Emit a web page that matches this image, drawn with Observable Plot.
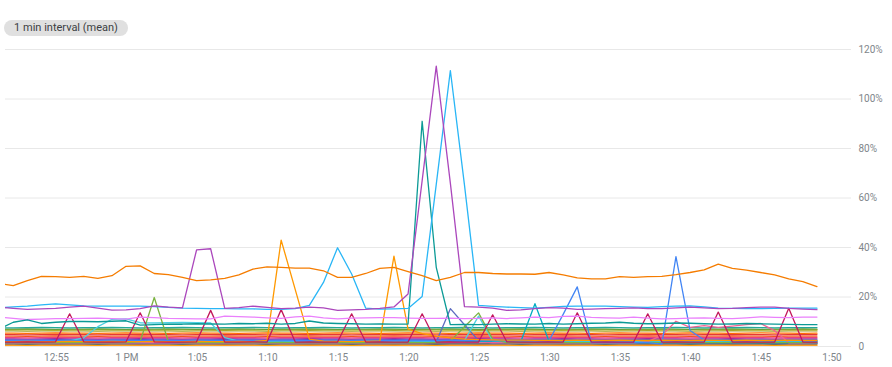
<!DOCTYPE html>
<html><head><meta charset="utf-8">
<script src="https://cdn.jsdelivr.net/npm/d3@7"></script>
<script src="https://cdn.jsdelivr.net/npm/@observablehq/plot@0.6"></script>
<style>
body{margin:0;background:#fff;font-family:Roboto,sans-serif;}
#head{height:40px;position:relative;}
#pill{position:absolute;left:4px;top:20px;width:124px;height:16px;line-height:16px;border-radius:8px;background:#e0e0e0;color:#3c4043;font-size:11px;text-align:center;}
</style></head><body>
<div id="head"><span id="pill">1 min interval (mean)</span></div>
<div id="chart"></div>
<script>
// x tick labels and y tick labels
const xTickLabels = ["12:55","1 PM","1:05","1:10","1:15","1:20","1:25","1:30","1:35","1:40","1:45","1:50"];
const xTickTimes = ["12:55","13:00","13:05","13:10","13:15","13:20","13:25","13:30","13:35","13:40","13:45","13:50"];
const yTickValues = [0,20,40,60,80,100,120];
const yTickLabels = ["0","20%","40%","60%","80%","100%","120%"];

// series values (percent), one per minute starting 12:50:56
const orangeTop = [25.5,24.6,26.6,28.3,28.2,27.9,28.3,27.5,28.6,32.4,
32.6,29.5,29.0,27.9,26.6,26.9,27.5,28.9,31.3,32.2,
32.0,31.7,31.7,30.6,27.9,27.9,29.5,31.6,32.0,30.3,
28.6,26.6,27.9,29.9,29.9,29.5,29.3,29.3,29.2,29.9,
28.9,27.7,27.3,27.3,28.2,27.9,28.2,28.3,29.0,29.9,
31.0,33.3,31.6,30.9,29.9,28.9,27.3,26.2,24.2];
const purple = [15.9,15.4,15.0,15.2,15.4,15.9,16.3,15.5,14.7,14.8,
15.3,16.4,15.9,15.6,39.0,39.5,15.4,15.7,16.3,15.8,
15.3,15.5,15.9,15.6,14.6,14.8,15.0,15.4,16.0,21.2,
67.0,113.3,66.0,16.1,15.9,15.5,14.6,14.8,15.3,15.7,
15.5,15.0,15.1,15.3,15.4,15.6,15.3,15.3,15.6,15.9,
15.6,15.3,15.4,15.7,15.9,15.9,15.4,15.1,14.9];
const sky = [15.6,16.0,16.3,16.8,17.2,16.8,16.4,16.3,16.3,16.3,
16.3,16.1,15.8,15.5,15.4,15.3,15.3,15.2,15.2,15.0,
15.0,15.3,16.6,25.9,39.9,29.3,15.5,15.1,15.2,15.4,
20.2,65.5,111.5,65.3,16.6,16.2,15.9,15.7,15.5,15.8,
16.2,16.3,16.3,16.3,16.1,15.9,15.8,16.1,16.3,16.4,
16.0,15.5,15.4,15.3,15.3,15.4,15.5,15.5,15.5];
const teal = [7.0,9.8,10.8,9.3,9.8,10.1,10.1,10.0,10.2,10.4,
8.6,8.8,9.0,9.0,9.2,9.1,9.0,9.3,9.2,9.4,
9.0,9.3,10.3,9.5,9.3,9.2,9.0,9.1,9.0,9.1,
91.0,32.0,8.8,8.9,8.8,9.0,9.2,9.1,9.0,9.3,
9.0,9.2,9.4,9.5,9.8,9.4,9.2,9.3,9.5,9.4,
9.2,9.0,9.1,9.3,9.2,9.0,8.9,8.8,8.8];
const crimson = [1.8,1.8,1.9,1.8,1.9,13.2,1.9,1.8,1.8,1.9,
13.6,1.9,1.8,1.8,1.9,14.6,1.8,1.8,1.9,1.8,
14.9,1.8,1.9,1.8,1.8,13.2,1.8,1.9,1.8,1.8,
13.2,1.8,1.9,1.8,1.8,12.8,1.9,1.8,1.8,1.9,
1.8,13.6,1.8,1.9,1.8,1.8,13.2,1.8,1.9,1.8,
1.8,13.9,1.8,1.9,1.8,1.8,15.5,1.8,1.8];
const violet = [11.9,11.4,10.9,11.1,11.3,11.3,11.4,11.5,11.3,11.1,
11.9,11.7,11.4,11.3,11.2,11.2,12.3,12.1,11.9,11.6,
11.4,12.0,12.3,11.6,11.2,11.5,11.6,11.7,11.7,11.5,
11.4,11.4,11.5,11.3,11.4,11.6,11.3,11.6,11.9,11.7,
12.2,12.3,11.8,11.6,11.5,11.9,11.5,11.2,11.3,11.5,
11.6,11.4,11.3,11.6,12.0,11.8,11.7,11.9,11.9];
const green = [1.6,1.6,1.7,1.6,1.6,1.7,1.6,1.6,1.7,1.6,
2.0,19.8,2.0,1.6,1.7,1.6,1.6,1.7,1.6,1.6,
1.7,1.6,1.6,1.7,1.6,1.6,1.7,1.6,1.6,1.7,
1.6,1.7,2.2,8.0,13.6,3.0,1.6,1.7,1.6,1.6,
1.7,1.6,1.6,1.7,1.6,1.6,1.7,1.6,1.6,1.7,
1.6,1.6,1.7,1.6,1.6,1.7,1.6,1.6,1.6];
const indigo = [1.4,1.4,1.5,1.4,1.4,1.5,1.4,1.4,1.5,1.4,
1.4,1.5,1.4,1.4,1.5,1.4,1.4,1.5,1.4,1.4,
1.5,1.4,1.4,1.5,1.4,1.4,1.5,1.4,1.4,1.5,
1.5,1.8,15.3,8.8,2.4,1.4,1.5,1.4,1.4,1.5,
1.4,1.4,1.5,1.4,1.4,1.5,1.4,1.4,1.5,1.4,
1.4,1.5,1.4,1.4,1.5,1.4,1.4,1.5,1.4];
const lightCyan = [2.2,2.2,2.3,2.2,2.2,2.3,3.5,8.0,11.0,11.2,
9.6,9.5,9.6,9.7,9.6,9.5,3.6,2.2,2.3,2.2,
2.2,2.3,2.2,2.2,2.3,2.2,2.2,2.3,2.2,2.2,
2.3,2.2,2.3,2.4,12.3,2.4,2.2,2.3,2.2,2.2,
2.3,2.2,2.2,2.3,2.2,2.2,2.3,2.2,2.2,2.3,
2.2,2.2,2.3,2.2,2.2,2.3,2.2,2.2,2.2];
const cyanTeal = [2.0,2.0,2.1,2.0,2.0,2.1,2.0,2.0,2.1,2.0,
2.0,2.1,2.0,2.0,2.1,2.0,2.0,2.1,2.0,2.0,
2.1,2.0,2.0,2.1,2.0,2.0,2.1,2.0,2.0,2.1,
2.0,2.0,2.1,2.0,2.0,2.1,2.0,2.0,17.3,2.0,
2.0,2.1,2.0,2.0,2.1,2.0,2.0,2.1,2.0,2.0,
2.1,2.0,2.0,2.1,2.0,2.0,2.1,2.0,2.0];
const blue = [2.4,2.4,2.5,2.4,2.4,2.5,2.4,2.4,2.5,2.4,
2.4,2.5,2.4,2.4,2.5,2.4,2.4,2.5,2.4,2.4,
2.5,2.4,2.4,2.5,2.4,2.4,2.5,2.4,2.4,2.5,
2.4,2.4,2.5,2.4,2.4,2.5,2.4,2.4,2.4,2.3,
13.0,24.1,1.6,1.6,1.7,1.6,1.6,1.0,36.3,6.5,
2.6,2.5,2.4,2.4,2.5,2.4,2.4,2.5,2.4];
const pink = [1.5,1.5,1.6,1.5,1.5,1.6,1.5,1.5,1.6,1.5,
1.5,1.6,1.5,1.5,1.6,1.5,1.5,1.6,1.5,1.5,
1.6,1.5,1.5,1.6,1.5,1.5,1.6,1.5,1.5,1.6,
1.5,1.5,1.6,1.5,1.5,1.6,1.5,1.5,1.6,1.5,
1.5,1.6,1.5,1.5,1.6,1.5,2.0,4.5,10.2,7.7,
8.4,7.7,8.2,8.8,9.3,6.4,1.5,1.5,1.6];
const orangeBright = [2.0,2.0,2.1,2.0,2.0,2.1,2.0,2.0,2.1,2.0,
2.0,2.1,2.0,2.0,2.1,2.0,2.0,2.1,2.0,2.5,
43.0,23.0,3.0,2.2,2.1,2.0,2.1,2.3,36.5,7.0,
5.2,4.2,3.5,3.0,2.8,2.7,2.6,2.6,2.5,2.5,
2.5,2.6,2.5,2.5,2.6,2.5,2.5,2.6,2.5,2.5,
2.6,2.5,2.5,2.6,2.5,2.5,2.6,2.5,2.5];
const tealGreen = [7.6,7.5,7.6,7.7,7.6,7.5,7.6,7.6,7.7,7.6,
7.5,7.6,7.6,7.7,7.6,7.5,7.6,7.6,7.7,7.6,
7.5,7.6,7.6,7.7,7.6,7.5,7.6,7.6,7.7,7.6,
7.5,7.6,7.6,7.7,7.6,7.5,7.6,7.6,7.7,7.6,
7.5,7.6,7.6,7.7,7.6,7.5,7.6,7.6,7.7,7.6,
7.5,7.6,7.6,7.7,7.6,7.5,7.6,7.6,7.6];
const lime = [6.8,6.8,6.9,6.8,6.7,6.8,6.8,6.9,6.8,6.8,
6.8,6.7,6.8,6.8,6.9,6.8,6.8,6.8,6.7,6.8,
6.8,6.9,6.8,6.8,6.8,6.7,6.8,6.8,6.8,6.9,
6.8,6.8,6.7,6.8,6.8,6.8,6.9,6.8,6.8,6.8,
6.7,6.8,6.8,6.9,6.8,6.8,6.8,6.7,6.8,6.8,
6.9,6.8,6.8,6.8,6.7,6.8,6.8,6.9,6.8];
const olive = [6.3,6.3,6.2,6.3,6.4,6.3,6.3,6.2,6.3,6.3,
6.4,6.3,6.3,6.2,6.3,6.3,6.4,6.3,6.3,6.2,
6.3,6.3,6.4,6.3,6.3,6.2,6.3,6.3,6.4,6.3,
6.3,6.2,6.3,6.3,6.4,6.3,6.3,6.2,6.3,6.3,
6.4,6.3,6.3,6.2,6.3,6.3,6.4,6.3,6.3,6.2,
6.3,6.3,6.4,6.3,6.3,6.2,6.3,6.3,6.3];
const leaf = [7.0,7.0,7.1,7.0,6.9,7.0,7.0,7.1,7.0,6.9,
7.0,7.0,7.1,7.0,6.9,7.0,7.0,7.1,7.0,6.9,
7.0,7.0,7.1,7.0,6.9,7.0,7.0,7.1,7.0,6.9,
7.0,7.0,7.1,7.0,6.9,7.0,7.0,7.1,7.0,6.9,
7.0,7.0,7.1,7.0,6.9,7.0,7.0,7.1,7.0,6.9,
7.0,7.0,7.1,7.0,6.9,7.0,7.0,7.1,7.0];
const deepOrange = [5.4,5.4,5.3,5.4,5.5,5.4,5.4,5.3,5.4,5.5,
5.4,5.4,5.3,5.4,5.5,5.4,5.4,5.3,5.4,5.5,
5.4,5.4,5.3,5.4,5.5,5.4,5.4,5.3,5.4,5.5,
5.4,5.4,5.3,5.4,5.5,5.4,5.4,5.3,5.4,5.5,
5.4,5.4,5.3,5.4,5.5,5.4,5.4,5.3,5.4,5.5,
5.4,5.4,5.3,5.4,5.5,5.4,5.4,5.3,5.4];
const red = [4.8,4.8,4.7,4.8,4.9,4.8,4.8,4.7,4.8,4.8,
4.9,4.8,4.8,4.7,4.8,4.8,4.9,4.8,4.8,4.7,
4.8,4.8,4.9,4.8,4.8,4.7,4.8,4.8,4.9,4.8,
4.8,4.7,4.8,4.8,4.9,4.8,4.8,4.7,4.8,4.8,
4.9,4.8,4.8,4.7,4.8,4.8,4.9,4.8,4.8,4.7,
4.8,4.8,4.9,4.8,4.8,4.7,4.8,4.8,4.8];
const vermilion = [4.2,4.2,4.1,4.2,4.3,4.2,4.2,4.1,4.2,4.2,
4.3,4.2,4.2,4.1,4.2,4.2,4.3,4.2,4.2,4.1,
4.2,4.2,4.3,4.2,4.2,4.1,4.2,4.2,4.3,4.2,
4.2,4.1,4.2,4.2,4.3,4.2,4.2,4.1,4.2,4.2,
4.3,4.2,4.2,4.1,4.2,4.2,4.3,4.2,4.2,4.1,
4.2,4.2,4.3,4.2,4.2,4.1,4.2,4.2,4.2];
const rose = [3.6,3.6,3.5,3.6,3.7,3.6,3.6,3.5,3.6,3.6,
3.7,3.6,3.6,3.5,3.6,3.6,3.7,3.6,3.6,3.5,
3.6,3.6,3.7,3.6,3.6,3.5,3.6,3.6,3.7,3.6,
3.6,3.5,3.6,3.6,3.7,3.6,3.6,3.5,3.6,3.6,
3.7,3.6,3.6,3.5,3.6,3.6,3.7,3.6,3.6,3.5,
3.6,3.6,3.7,3.6,3.6,3.5,3.6,3.6,3.6];
const grape = [3.1,3.1,3.0,3.1,3.2,3.1,3.1,3.0,3.1,3.1,
3.2,3.1,3.1,3.0,3.1,3.1,3.2,3.1,3.1,3.0,
3.1,3.1,3.2,3.1,3.1,3.0,3.1,3.1,3.2,3.1,
3.1,3.0,3.1,3.1,3.2,3.1,3.1,3.0,3.1,3.1,
3.2,3.1,3.1,3.0,3.1,3.1,3.2,3.1,3.1,3.0,
3.1,3.1,3.2,3.1,3.1,3.0,3.1,3.1,3.1];
const azure = [2.7,2.7,2.6,2.7,2.8,2.7,2.7,2.6,2.7,2.7,
2.8,2.7,2.7,2.6,2.7,2.7,2.8,2.7,2.7,2.6,
2.7,2.7,2.8,2.7,2.7,2.6,2.7,2.7,2.8,2.7,
2.7,2.6,2.7,2.7,2.8,2.7,2.7,2.6,2.7,2.7,
2.8,2.7,2.7,2.6,2.7,2.7,2.8,2.7,2.7,2.6,
2.7,2.7,2.8,2.7,2.7,2.6,2.7,2.7,2.7];
const navy = [2.2,2.2,2.1,2.2,2.3,2.2,2.2,2.1,2.2,2.2,
2.3,2.2,2.2,2.1,2.2,2.2,2.3,2.2,2.2,2.1,
2.2,2.2,2.3,2.2,2.2,2.1,2.2,2.2,2.3,2.2,
2.2,2.1,2.2,2.2,2.3,2.2,2.2,2.1,2.2,2.2,
2.3,2.2,2.2,2.1,2.2,2.2,2.3,2.2,2.2,2.1,
2.2,2.2,2.3,2.2,2.2,2.1,2.2,2.2,2.2];
const darkTeal = [1.3,1.3,1.2,1.3,1.4,1.3,1.3,1.2,1.3,1.3,
1.4,1.3,1.3,1.2,1.3,1.3,1.4,1.3,1.3,1.2,
1.3,1.3,1.4,1.3,1.3,1.2,1.3,1.3,1.4,1.3,
1.3,1.2,1.3,1.3,1.4,1.3,1.3,1.2,1.3,1.3,
1.4,1.3,1.3,1.2,1.3,1.3,1.4,1.3,1.3,1.2,
1.3,1.3,1.4,1.3,1.3,1.2,1.3,1.3,1.3];
const brown = [1.0,1.0,0.9,1.0,1.1,1.0,1.0,0.9,1.0,1.0,
1.1,1.0,1.0,0.9,1.0,1.0,1.1,1.0,1.0,0.9,
1.0,1.0,1.1,1.0,1.0,0.9,1.0,1.0,1.1,1.0,
1.0,0.9,1.0,1.0,1.1,1.0,1.0,0.9,1.0,1.0,
1.1,1.0,1.0,0.9,1.0,1.0,1.1,1.0,1.0,0.9,
1.0,1.0,1.1,1.0,1.0,0.9,1.0,1.0,1.0];
const amber = [0.6,0.6,0.5,0.6,0.7,0.6,0.6,0.5,0.6,0.6,
0.7,0.6,0.6,0.5,0.6,0.6,0.7,0.6,0.6,0.5,
0.6,0.6,0.7,0.6,0.6,0.5,0.6,0.6,0.7,0.6,
0.6,0.5,0.6,0.6,0.7,0.6,0.6,0.5,0.6,0.6,
0.7,0.6,0.6,0.5,0.6,0.6,0.7,0.6,0.6,0.5,
0.6,0.6,0.7,0.6,0.6,0.5,0.6,0.6,0.6];
const salmon = [0.25,0.25,0.2,0.25,0.3,0.25,0.25,0.2,0.25,0.25,
0.3,0.25,0.25,0.2,0.25,0.25,0.3,0.25,0.25,0.2,
0.25,0.25,0.3,0.25,0.25,0.2,0.25,0.25,0.3,0.25,
0.25,0.2,0.25,0.25,0.3,0.25,0.25,0.2,0.25,0.25,
0.3,0.25,0.25,0.2,0.25,0.25,0.3,0.25,0.25,0.2,
0.25,0.25,0.3,0.25,0.25,0.2,0.25,0.25,0.25];

// drawing order (bottom first) and colours
const seriesValues = [salmon, amber, brown, darkTeal, navy, azure, grape, rose, vermilion, red, deepOrange,
  olive, lime, leaf, tealGreen, indigo, cyanTeal, lightCyan, pink, green, blue, orangeBright, crimson,
  violet, teal, sky, purple, orangeTop];
const seriesColors = ["#ff8a65","#ffa000","#8d6e63","#00796b","#3949ab","#1e88e5","#8e24aa","#ec407a","#f4511e","#e53935","#ff6d00",
  "#9e9d24","#c0ca33","#689f38","#26a69a","#5c6bc0","#00acc1","#4dd0e1","#f06292","#7cb342","#4285f4","#ff9800","#c2185b",
  "#ea80fc","#0b9a96","#29b6f6","#ab47bc","#f57c00"];

const startTime = Date.UTC(2024, 0, 1, 12, 50, 56);
const times = orangeTop.map((_, i) => new Date(startTime + i * 60000));
const toDate = s => { const [h, m] = s.split(":").map(Number); return new Date(Date.UTC(2024, 0, 1, h, m)); };
const xTicks = xTickTimes.map(toDate);
const xLabelMap = new Map(xTicks.map((d, i) => [+d, xTickLabels[i]]));
const yLabelMap = new Map(yTickValues.map((v, i) => [v, yTickLabels[i]]));

const domainStart = new Date(Date.UTC(2024, 0, 1, 12, 51, 23));
const domainEnd = new Date(Date.UTC(2024, 0, 1, 13, 51, 23));

const lineMarks = seriesValues.map((vals, si) =>
  Plot.lineY(vals.map((v, i) => ({t: times[i], v})), {
    x: "t", y: "v", stroke: seriesColors[si], strokeWidth: 1.3, clip: true
  })
);

const chart = Plot.plot({
  width: 892, height: 327,
  marginTop: 9, marginBottom: 21, marginLeft: 5, marginRight: 41,
  style: {fontFamily: "Roboto, sans-serif", fontSize: "10px", color: "#80868b", background: "#fff"},
  x: {type: "utc", domain: [domainStart, domainEnd]},
  y: {domain: [0, 120]},
  marks: [
    Plot.gridY(yTickValues, {stroke: "#e8e8e8", strokeOpacity: 1, strokeWidth: 1}),
    Plot.axisY(yTickValues, {anchor: "right", tickSize: 0, tickPadding: 7, tickFormat: v => yLabelMap.get(v), label: null, fill: "#80868b"}),
    Plot.axisX(xTicks, {anchor: "bottom", tickSize: 0, tickPadding: 7, tickFormat: d => xLabelMap.get(+d), label: null, fill: "#80868b"}),
    ...lineMarks
  ]
});
document.getElementById("chart").appendChild(chart);
</script>
</body></html>
